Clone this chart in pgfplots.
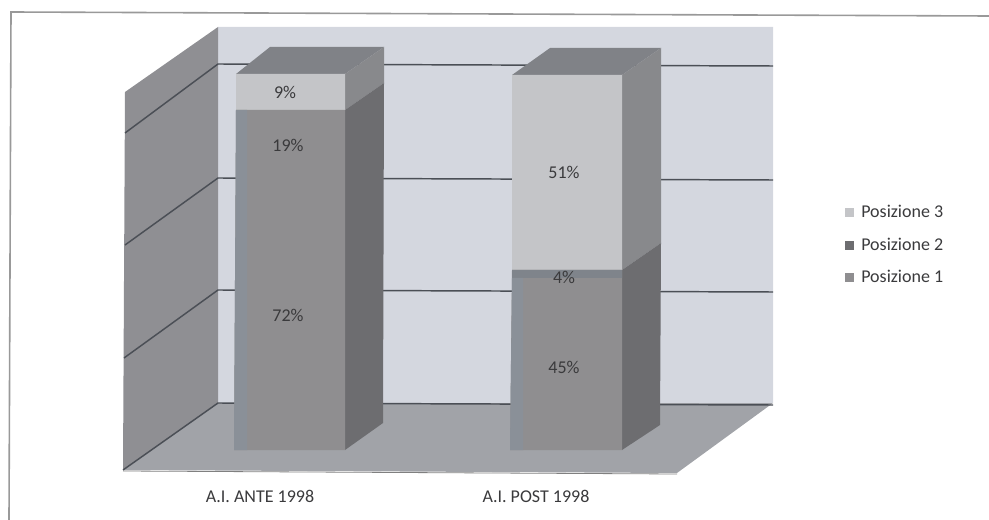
\documentclass[border=0pt]{standalone}
\usepackage{pgfplots}
\pgfplotsset{compat=1.18}
\usepackage{fontspec}
\setmainfont{Carlito}
\definecolor{wall}{HTML}{D4D7DF}
\definecolor{lwall}{HTML}{8F8F93}
\definecolor{floorc}{HTML}{A1A3A8}
\definecolor{front}{HTML}{8F8E90}
\definecolor{stripe}{HTML}{8A9098}
\definecolor{side}{HTML}{6D6D70}
\definecolor{sidetop}{HTML}{88898C}
\definecolor{topc}{HTML}{808287}
\definecolor{light}{HTML}{C4C5C8}
\definecolor{band}{HTML}{7F848B}
\definecolor{grid}{HTML}{4B4F56}
\definecolor{txt}{HTML}{3A3A3C}
\newcommand{\lab}{\fontsize{13.5pt}{15pt}\selectfont}
\pgfplotsset{
  poly/.style={draw=none,fill=#1,forget plot,mark=none},
  gl/.style={draw=grid,line width=1.1pt,forget plot,mark=none},
}
\begin{document}
\begin{tikzpicture}
\path[use as bounding box] (0,0) rectangle (741.75pt,390pt);
\begin{axis}[
    scale only axis,
    width=741.75pt,
    height=390pt,
    xmin=0, xmax=989,
    ymin=0, ymax=520,
    y dir=reverse,
    axis line style={draw=none},
    major tick length=0pt,
    ytick=\empty,
    xtick={260,536},
    xticklabels={A.I. ANTE 1998,A.I. POST 1998},
    xticklabel style={font=\lab,text=txt,yshift=26pt},
    clip=false,
    legend style={at={(axis cs:841,245)},anchor=west,draw=none,fill=none,
      font=\lab,text=txt,row sep=9.75pt,
      /tikz/column 1/.style={column sep=4pt},
      legend cell align=left},
]
% frame of the scan
\addplot[draw=gray!80,line width=1.2pt,forget plot,mark=none] coordinates {(9,520) (11,12) (989,16)};
% walls and floor
\addplot[poly=wall] coordinates {(218,27) (773,27) (773,403) (218,403) (218,27)};
\addplot[poly=lwall] coordinates {(125,92) (218,27) (218,403) (123,470) (125,92)};
\addplot[poly=floorc] coordinates {(218,403) (773,403) (677,473) (123,470) (218,403)};
% gridlines
\addplot[gl] coordinates {(125,133) (218,64) (773,66)};
\addplot[gl] coordinates {(125,245) (218,178) (773,180)};
\addplot[gl] coordinates {(124,358) (218,290) (773,292)};
\addplot[gl] coordinates {(123,470) (218,403) (773,405)};
\addplot[draw=gray,line width=0.6pt,forget plot,mark=none] coordinates {(123,471) (677,474)};
% bar 1
\addplot[poly=topc] coordinates {(236,74) (270,47) (384,47) (345,74) (236,74)};
\addplot[poly=sidetop] coordinates {(345,74) (384,47) (384,83) (345,110) (345,74)};
\addplot[poly=side] coordinates {(345,110) (384,83) (383,423) (345,450) (345,110)};
\addplot[poly=light] coordinates {(236,74) (345,74) (345,110) (236,110) (236,74)};
\addplot[poly=front] coordinates {(236,110) (345,110) (345,450) (234,450) (236,110)};
\addplot[poly=stripe] coordinates {(236,110) (247,110) (247,450) (234,450) (236,110)};
% bar 2
\addplot[poly=topc] coordinates {(512,75) (550,48) (661,48) (622,75) (512,75)};
\addplot[poly=sidetop] coordinates {(622,75) (661,48) (661,243) (622,270) (622,75)};
\addplot[poly=side] coordinates {(622,270) (661,243) (660,425) (622,450) (622,270)};
\addplot[poly=light] coordinates {(512,75) (622,75) (622,270) (512,270) (512,75)};
\addplot[poly=front] coordinates {(512,270) (622,270) (622,450) (510,450) (512,270)};
\addplot[poly=band] coordinates {(512,270) (622,270) (622,278) (512,278) (512,270)};
\addplot[poly=stripe] coordinates {(512,278) (523,278) (523,450) (510,450) (512,278)};
% value labels
\node[text=txt,font=\lab] at (axis cs:285,92) {9\%};
\node[text=txt,font=\lab] at (axis cs:288,145) {19\%};
\node[text=txt,font=\lab] at (axis cs:288,315) {72\%};
\node[text=txt,font=\lab] at (axis cs:564,172) {51\%};
\node[text=txt,font=\lab] at (axis cs:564,277) {4\%};
\node[text=txt,font=\lab] at (axis cs:564,367) {45\%};
% legend
\addlegendimage{only marks,mark=square*,mark size=3pt,color=light}
\addlegendentry{Posizione 3}
\addlegendimage{only marks,mark=square*,mark size=3pt,color=side}
\addlegendentry{Posizione 2}
\addlegendimage{only marks,mark=square*,mark size=3pt,color=front}
\addlegendentry{Posizione 1}
\end{axis}
\end{tikzpicture}
\end{document}
